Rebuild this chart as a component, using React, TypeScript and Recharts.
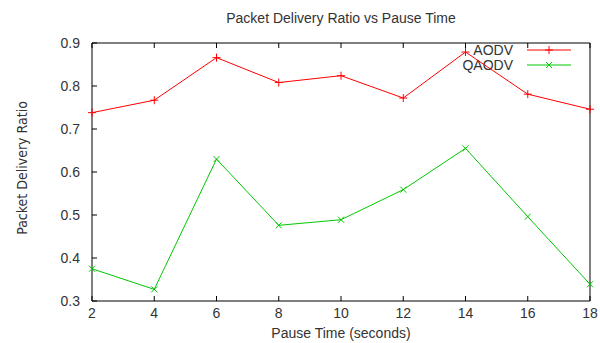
import { LineChart, Line, XAxis, YAxis } from 'recharts';

const pauseTimes = [2, 4, 6, 8, 10, 12, 14, 16, 18];
const aodv = [0.738, 0.767, 0.866, 0.808, 0.824, 0.772, 0.879, 0.781, 0.746];
const qaodv = [0.375, 0.327, 0.63, 0.476, 0.489, 0.559, 0.655, 0.496, 0.339];
const xTicks = [2, 4, 6, 8, 10, 12, 14, 16, 18];
const yTicks = [0.3, 0.4, 0.5, 0.6, 0.7, 0.8, 0.9];
const seriesNames = ['AODV', 'QAODV'];

const RED = '#ff0000';
const GREEN = '#00c800';
const TEXT = '#333';
const FONT = '"Liberation Sans", Arial, sans-serif';

const data = pauseTimes.map((t, i) => ({ t, aodv: aodv[i], qaodv: qaodv[i] }));

function PlusDot(props: any) {
  const { cx, cy } = props;
  if (cx == null || cy == null) return null;
  return (
    <path d={`M${cx - 4},${cy}H${cx + 4}M${cx},${cy - 4}V${cy + 4}`} stroke={RED} strokeWidth={1} fill="none" />
  );
}

function CrossDot(props: any) {
  const { cx, cy } = props;
  if (cx == null || cy == null) return null;
  return (
    <path
      d={`M${cx - 3},${cy - 3}L${cx + 3},${cy + 3}M${cx - 3},${cy + 3}L${cx + 3},${cy - 3}`}
      stroke={GREEN}
      strokeWidth={1}
      fill="none"
    />
  );
}

// key box + titles drawn straight into the chart svg
function Annotations() {
  const colors = [RED, GREEN];
  return (
    <g fontFamily={FONT} fontSize={14} fill={TEXT}>
      <text x={341} y={23} textAnchor="middle">
        Packet Delivery Ratio vs Pause Time
      </text>
      <text x={341} y={338} textAnchor="middle">
        Pause Time (seconds)
      </text>
      <text
        x={27}
        y={168}
        textAnchor="middle"
        transform="rotate(-90 27 168)"
        fontFamily='"Liberation Sans Narrow", "DejaVu Sans Condensed", sans-serif'
      >
        Packet Delivery Ratio
      </text>
      {seriesNames.map((name, i) => {
        const y = 50 + i * 15;
        return (
          <g key={name}>
            <text x={513} y={y + 5} textAnchor="end">
              {name}
            </text>
            <line x1={527} y1={y} x2={571} y2={y} stroke={colors[i]} strokeWidth={1} />
            {i === 0 ? <PlusDot cx={549} cy={y} /> : <CrossDot cx={549} cy={y} />}
          </g>
        );
      })}
    </g>
  );
}

const tickStyle = { fill: TEXT, fontSize: 14, fontFamily: FONT };

export default function App() {
  return (
    <div style={{ position: 'absolute', left: 0, top: 0, width: 600, height: 343, background: '#fff' }}>
      <LineChart width={600} height={343} data={data} margin={{ top: 42, right: 9, bottom: 0, left: 0 }}>
        <XAxis
          xAxisId="b"
          dataKey="t"
          type="number"
          domain={[2, 18]}
          ticks={xTicks}
          height={42}
          tickSize={-5}
          tickMargin={12}
          stroke="#000"
          tick={tickStyle}
        />
        <XAxis
          xAxisId="t"
          orientation="top"
          dataKey="t"
          type="number"
          domain={[2, 18]}
          ticks={xTicks}
          height={1}
          tickSize={-5}
          stroke="#000"
          tickFormatter={() => ''}
        />
        <YAxis
          yAxisId="l"
          type="number"
          domain={[0.3, 0.9]}
          ticks={yTicks}
          width={92}
          tickSize={-5}
          tickMargin={17}
          stroke="#000"
          tickFormatter={(v: number) => v.toFixed(1)}
          tick={tickStyle}
        />
        <YAxis
          yAxisId="r"
          orientation="right"
          type="number"
          domain={[0.3, 0.9]}
          ticks={yTicks}
          width={1}
          tickSize={-5}
          stroke="#000"
          tickFormatter={() => ''}
        />
        <Line
          xAxisId="b"
          yAxisId="l"
          dataKey="aodv"
          name="AODV"
          stroke={RED}
          strokeWidth={1}
          dot={<PlusDot />}
          isAnimationActive={false}
        />
        <Line
          xAxisId="b"
          yAxisId="l"
          dataKey="qaodv"
          name="QAODV"
          stroke={GREEN}
          strokeWidth={1}
          dot={<CrossDot />}
          isAnimationActive={false}
        />
        <Annotations />
      </LineChart>
    </div>
  );
}
